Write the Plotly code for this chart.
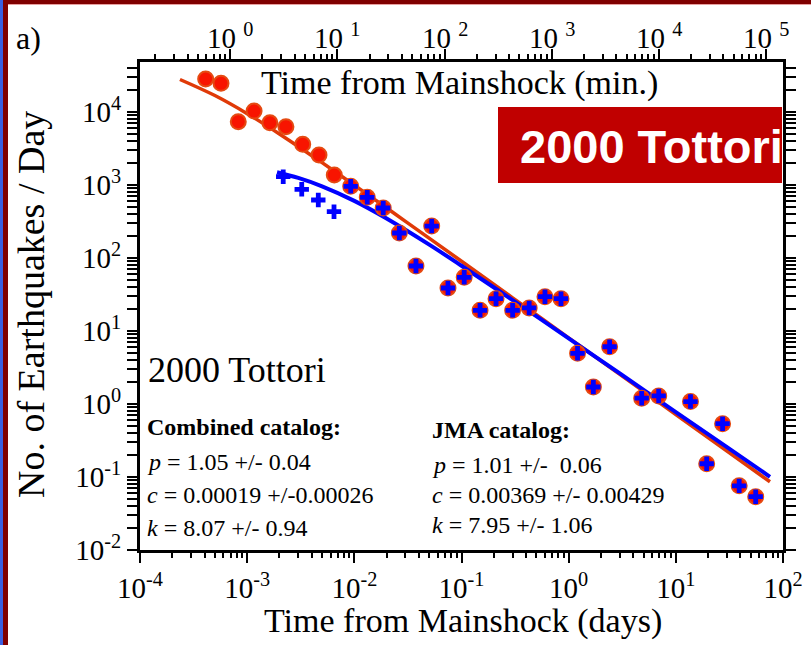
import math
import plotly.graph_objects as go

# ---------------- data ----------------
days_comb = [4.10e-4, 5.70e-4, 8.26e-4, 1.16e-3, 1.63e-3, 2.30e-3, 3.30e-3, 4.68e-3,
             6.50e-3, 9.25e-3, 1.32e-2, 1.86e-2, 2.63e-2, 3.76e-2, 5.27e-2, 7.48e-2,
             0.106, 0.149, 0.210, 0.300, 0.428, 0.601, 0.848, 1.21, 1.70, 2.41,
             4.80, 6.92, 13.7, 19.4, 27.3, 39.0, 55.6]
rate_comb = [28300, 24700, 7360, 10300, 7130, 6290, 3610, 2580,
             1370, 960, 679, 484, 220, 77.7, 274, 38.8,
             54.4, 19.2, 27.7, 19.2, 20.7, 29.5, 27.7, 4.95, 1.71, 6.09,
             1.20, 1.29, 1.08, 0.152, 0.537, 0.0757, 0.0537]

days_jma = [2.17e-3, 3.23e-3, 4.61e-3, 6.46e-3,
            9.25e-3, 1.32e-2, 1.86e-2, 2.63e-2, 3.76e-2, 5.27e-2, 7.48e-2,
            0.106, 0.149, 0.210, 0.300, 0.428, 0.601, 0.848, 1.21, 1.70, 2.41,
            4.80, 6.92, 13.7, 19.4, 27.3, 39.0, 55.6]
rate_jma = [1300, 873, 623, 431,
            960, 679, 484, 220, 77.7, 274, 38.8,
            54.4, 19.2, 27.7, 19.2, 20.7, 29.5, 27.7, 4.95, 1.71, 6.09,
            1.20, 1.29, 1.08, 0.152, 0.537, 0.0757, 0.0537]

# fitted Omori curves
fit_comb_t = [2.36e-4, 5e-4, 1e-3, 2e-3, 5e-3, 1e-2, 3e-2, 0.1, 0.3, 1, 3, 10, 30, 75.6]
fit_comb_n = [27900, 16800, 9500, 5005, 2022, 996, 318, 90.4, 28.5, 8.07, 2.55, 0.719, 0.227, 0.0861]
fit_jma_t = [1.9e-3, 3e-3, 5e-3, 1e-2, 2e-2, 5e-2, 0.1, 0.3, 1, 3, 10, 30, 75.6]
fit_jma_n = [1497, 1249, 959, 606, 348, 152.5, 78.4, 26.5, 7.92, 2.62, 0.776, 0.256, 0.1007]

x_tickvals = [1e-4, 1e-3, 1e-2, 1e-1, 1, 10, 100]
x_ticktext = ["10<sup>-4</sup>", "10<sup>-3</sup>", "10<sup>-2</sup>", "10<sup>-1</sup>",
              "10<sup>0</sup>", "10<sup>1</sup>", "10<sup>2</sup>"]
top_tickvals = [1, 10, 100, 1000, 10000, 100000]
top_ticktext = ["10 <sup>0</sup>", "10 <sup>1</sup>", "10 <sup>2</sup>", "10 <sup>3</sup>",
                "10 <sup>4</sup>", "10 <sup>5</sup>"]
y_tickvals = [1e-2, 1e-1, 1, 10, 100, 1000, 10000]
y_ticktext = ["10<sup>-2</sup>", "10<sup>-1</sup>", "10<sup>0</sup>", "10<sup>1</sup>",
              "10<sup>2</sup>", "10<sup>3</sup>", "10<sup>4</sup>"]

SERIF = "Liberation Serif"
RED = "#e03a08"
BLUE = "#0000ff"

fig = go.Figure()
fig.add_trace(go.Scatter(x=fit_comb_t, y=fit_comb_n, mode="lines", line_shape="spline",
                         line=dict(color=RED, width=3.5), showlegend=False, hoverinfo="skip"))
fig.add_trace(go.Scatter(x=fit_jma_t, y=fit_jma_n, mode="lines", line_shape="spline",
                         line=dict(color=BLUE, width=4), showlegend=False, hoverinfo="skip"))
fig.add_trace(go.Scatter(x=days_comb, y=rate_comb, mode="markers",
                         marker=dict(symbol="circle", size=15, color="#f81400",
                                     line=dict(color="#e54a12", width=2)),
                         showlegend=False))
fig.add_trace(go.Scatter(x=days_jma, y=rate_jma, mode="markers",
                         marker=dict(symbol="cross", size=12, color=BLUE, line=dict(width=0)),
                         showlegend=False))
# invisible trace to activate the top (minutes) axis
fig.add_trace(go.Scatter(x=[0.144, 144000], y=[1, 1], xaxis="x2", mode="markers",
                         marker=dict(opacity=0), showlegend=False, hoverinfo="skip"))

axis_common = dict(type="log", showgrid=False, zeroline=False, showline=True,
                   automargin=False,
                   linecolor="black", linewidth=3, ticks="outside", ticklen=10,
                   tickwidth=2, tickcolor="black",
                   tickfont=dict(family=SERIF, size=29, color="black"),
                   minor=dict(ticks="outside", ticklen=5, tickwidth=1.5,
                              tickcolor="black", dtick="D1", showgrid=False))

fig.update_layout(
    width=811, height=645,
    margin=dict(l=140, r=28, t=62, b=95, autoexpand=False),
    paper_bgcolor="white", plot_bgcolor="white",
    xaxis=dict(range=[-4, 2], tickmode="array", tickvals=x_tickvals, ticktext=x_ticktext,
               mirror=False, **axis_common),
    xaxis2=dict(range=[-0.8416, 5.1584], overlaying="x", side="top", anchor="y",
                tickmode="array", tickvals=top_tickvals, showticklabels=False,
                **axis_common),
    yaxis=dict(range=[-2, 4.685], tickmode="array", tickvals=y_tickvals, ticktext=y_ticktext,
               mirror="allticks", **axis_common),
)

def px2x(px):
    return (px - 140) / 643.0

def py2y(py):
    return (550 - py) / 488.0

shapes = [
    # slide frame
    dict(type="rect", xref="paper", yref="paper", x0=px2x(0), x1=px2x(811),
         y0=py2y(4), y1=py2y(0), fillcolor="#800000", line=dict(width=0), layer="above"),
    dict(type="rect", xref="paper", yref="paper", x0=px2x(0), x1=px2x(811),
         y0=py2y(5), y1=py2y(4), fillcolor="#e8a0a0", line=dict(width=0), layer="above"),
    dict(type="rect", xref="paper", yref="paper", x0=px2x(0), x1=px2x(3),
         y0=py2y(645), y1=py2y(0), fillcolor="#3a5fe0", line=dict(width=0), layer="above"),
    dict(type="rect", xref="paper", yref="paper", x0=px2x(3), x1=px2x(8),
         y0=py2y(645), y1=py2y(4), fillcolor="#800000", line=dict(width=0), layer="above"),
    # title box
    dict(type="rect", xref="paper", yref="paper", x0=px2x(498), x1=px2x(782),
         y0=py2y(183), y1=py2y(107), fillcolor="#c00000", line=dict(width=0), layer="above"),
]
fig.update_layout(shapes=shapes)

def ann(text, px, py, size, xanchor="left", family=SERIF, color="black", angle=0):
    return dict(text=text, x=px2x(px), y=py2y(py), xref="paper", yref="paper",
                xanchor=xanchor, yanchor="middle", showarrow=False, textangle=angle,
                font=dict(family=family, size=size, color=color))

annotations = [
    ann("a)", 28, 38, 32, xanchor="center"),
    ann("Time from Mainshock (min.)", 459, 83, 34, xanchor="center"),
    ann("Time from Mainshock (days)", 463, 621, 34, xanchor="center"),
    ann("No. of Earthquakes / Day", 31, 305, 38, xanchor="center", angle=-90),
    ann("<b>2000 Tottori</b>", 518, 146, 47, family="Liberation Sans", color="white"),
    ann("2000 Tottori", 146, 370, 36),
    ann("<b>Combined catalog:</b>", 145, 427, 24),
    ann("<i>p</i> = 1.05 +/- 0.04", 145, 462, 24),
    ann("<i>c</i> = 0.00019 +/-0.00026", 145, 495, 24),
    ann("<i>k</i> = 8.07 +/- 0.94", 145, 528, 24),
    ann("<b>JMA catalog:</b>", 430, 430, 24),
    ann("<i>p</i> = 1.01 +/-  0.06", 430, 465, 24),
    ann("<i>c</i> = 0.00369 +/- 0.00429", 430, 495, 24),
    ann("<i>k</i> = 7.95 +/- 1.06", 430, 525, 24),
]
# top (minutes) axis tick labels, placed at the tick positions of xaxis2
for v, t in zip(top_tickvals, top_ticktext):
    annotations.append(dict(text=t, x=math.log10(v), xref="x2", y=py2y(36), yref="paper",
                            xanchor="center", yanchor="middle", showarrow=False,
                            font=dict(family=SERIF, size=29, color="black")))
fig.update_layout(annotations=annotations)

fig.write_html("out.html")
